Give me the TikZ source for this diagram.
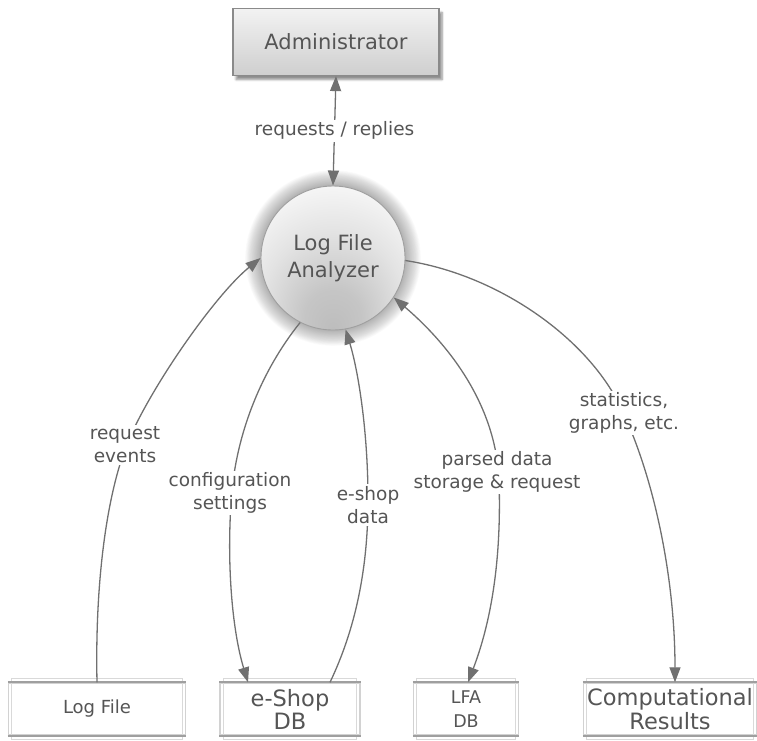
\documentclass[tikz,border=0pt]{standalone}
\usepackage{fontspec}
\setmainfont{DejaVu Sans}
\usetikzlibrary{arrows.meta,shadows.blur}
\definecolor{ink}{HTML}{555555}
\definecolor{wire}{HTML}{707070}
\definecolor{frame}{HTML}{8A8A8A}
% orb fill: white top, darker below the middle
\pgfdeclareradialshading{orb}{\pgfpoint{0bp}{-25bp}}{%
  color(0bp)=(gray!52); color(10bp)=(gray!45); color(24bp)=(gray!22); color(38bp)=(gray!4); color(60bp)=(white)}
\tikzset{
  actor/.style={draw=frame, line width=1.2pt, minimum width=206pt, minimum height=67pt,
    top color=gray!10, bottom color=gray!38, text=ink, font=\fontsize{21}{24}\selectfont,
    blur shadow={shadow xshift=3pt, shadow yshift=-4pt, shadow blur steps=6, shadow opacity=45}},
  process/.style={circle, draw=gray!75, line width=0.9pt, minimum size=144pt, inner sep=0pt,
    shading=orb, text=ink, align=center, font=\fontsize{21}{27}\selectfont},
  store/.style={draw=gray!35, line width=1.4pt, fill=white, text=ink, align=center, inner sep=0pt},
  flow/.style={draw=wire, line width=1.3pt, -{Triangle[length=15pt,width=11pt]}, color=wire},
  bothflow/.style={flow, {Triangle[length=15pt,width=11pt]}-{Triangle[length=15pt,width=11pt]}},
  tag/.style={fill=white, text=ink, align=center, inner sep=2pt, font=\fontsize{18.5}{23}\selectfont}
}
% data store: light frame, inner frame, heavy top and bottom rules
\newcommand{\datastore}[6]{%
  \node[store, minimum width=#3, minimum height=#4, font=#6] (#1) at #2 {#5};
  \draw[gray!30, line width=1pt] ([shift={(4pt,4pt)}]#1.north west) rectangle ([shift={(-4pt,-4pt)}]#1.south east);
  \draw[gray!75, line width=2pt] (#1.north west) -- (#1.north east);
  \draw[gray!75, line width=2pt] (#1.south west) -- (#1.south east);
}
\begin{document}
\begin{tikzpicture}[x=1pt,y=-1pt]
\useasboundingbox (0,0) rectangle (757,740);

\node[actor] (admin) at (336,42) {Administrator};

% soft halo round the analyzer
\coordinate (lfac) at (333,258);
\foreach \r in {1,...,24}
  \fill[black, opacity=0.016] (lfac) circle (71+0.7*\r);
\node[process] (lfa) at (lfac) {Log File\\Analyzer};

\datastore{logfile}{(97,709)}{177pt}{52pt}{Log File}{\fontsize{18}{22}\selectfont}
\datastore{eshop}{(290,709)}{140pt}{52pt}{e-Shop\\DB}{\fontsize{22.5}{23}\selectfont}
\datastore{lfadb}{(466,709)}{105pt}{52pt}{LFA\\DB}{\fontsize{17.5}{24}\selectfont}
\datastore{results}{(670,709)}{173pt}{52pt}{Computational\\Results}{\fontsize{22.5}{24}\selectfont}

% administrator dialogue
\draw[bothflow] (admin.south) -- node[tag] (tagadmin) {requests / replies} (lfa.north);

% flows between the analyzer and its stores
\draw[flow] (logfile.north) .. controls (95,590) and (105,500) .. (127,444)
  .. controls (150,388) and (215,295) .. (lfa.west);
\draw[flow] (lfa.-117) .. controls (262,370) and (238,430) .. (232,490)
  .. controls (226,560) and (232,630) .. ([xshift=-42pt]eshop.north);
\draw[flow] ([xshift=40pt]eshop.north) .. controls (355,630) and (368,570) .. (368,500)
  .. controls (368,430) and (358,370) .. (lfa.-80);
\draw[bothflow] (lfa.-33) .. controls (455,350) and (496,410) .. (499,480)
  .. controls (502,570) and (488,630) .. ([xshift=2pt]lfadb.north);
\draw[flow] (lfa.-2) .. controls (500,275) and (590,340) .. (622,410)
  .. controls (655,480) and (675,580) .. ([xshift=5pt]results.north);

% flow labels
\node[tag] (tagevents) at (125,445) {request\\events};
\node[tag] (tagconfig) at (230,493) {configuration\\settings};
\node[tag] (tagshop) at (368,505) {e-shop\\data};
\node[tag] (tagparsed) at (497,472) {parsed data\\storage \& request};
\node[tag] (tagstats) at (624,413) {statistics,\\graphs, etc.};
\end{tikzpicture}
\end{document}
